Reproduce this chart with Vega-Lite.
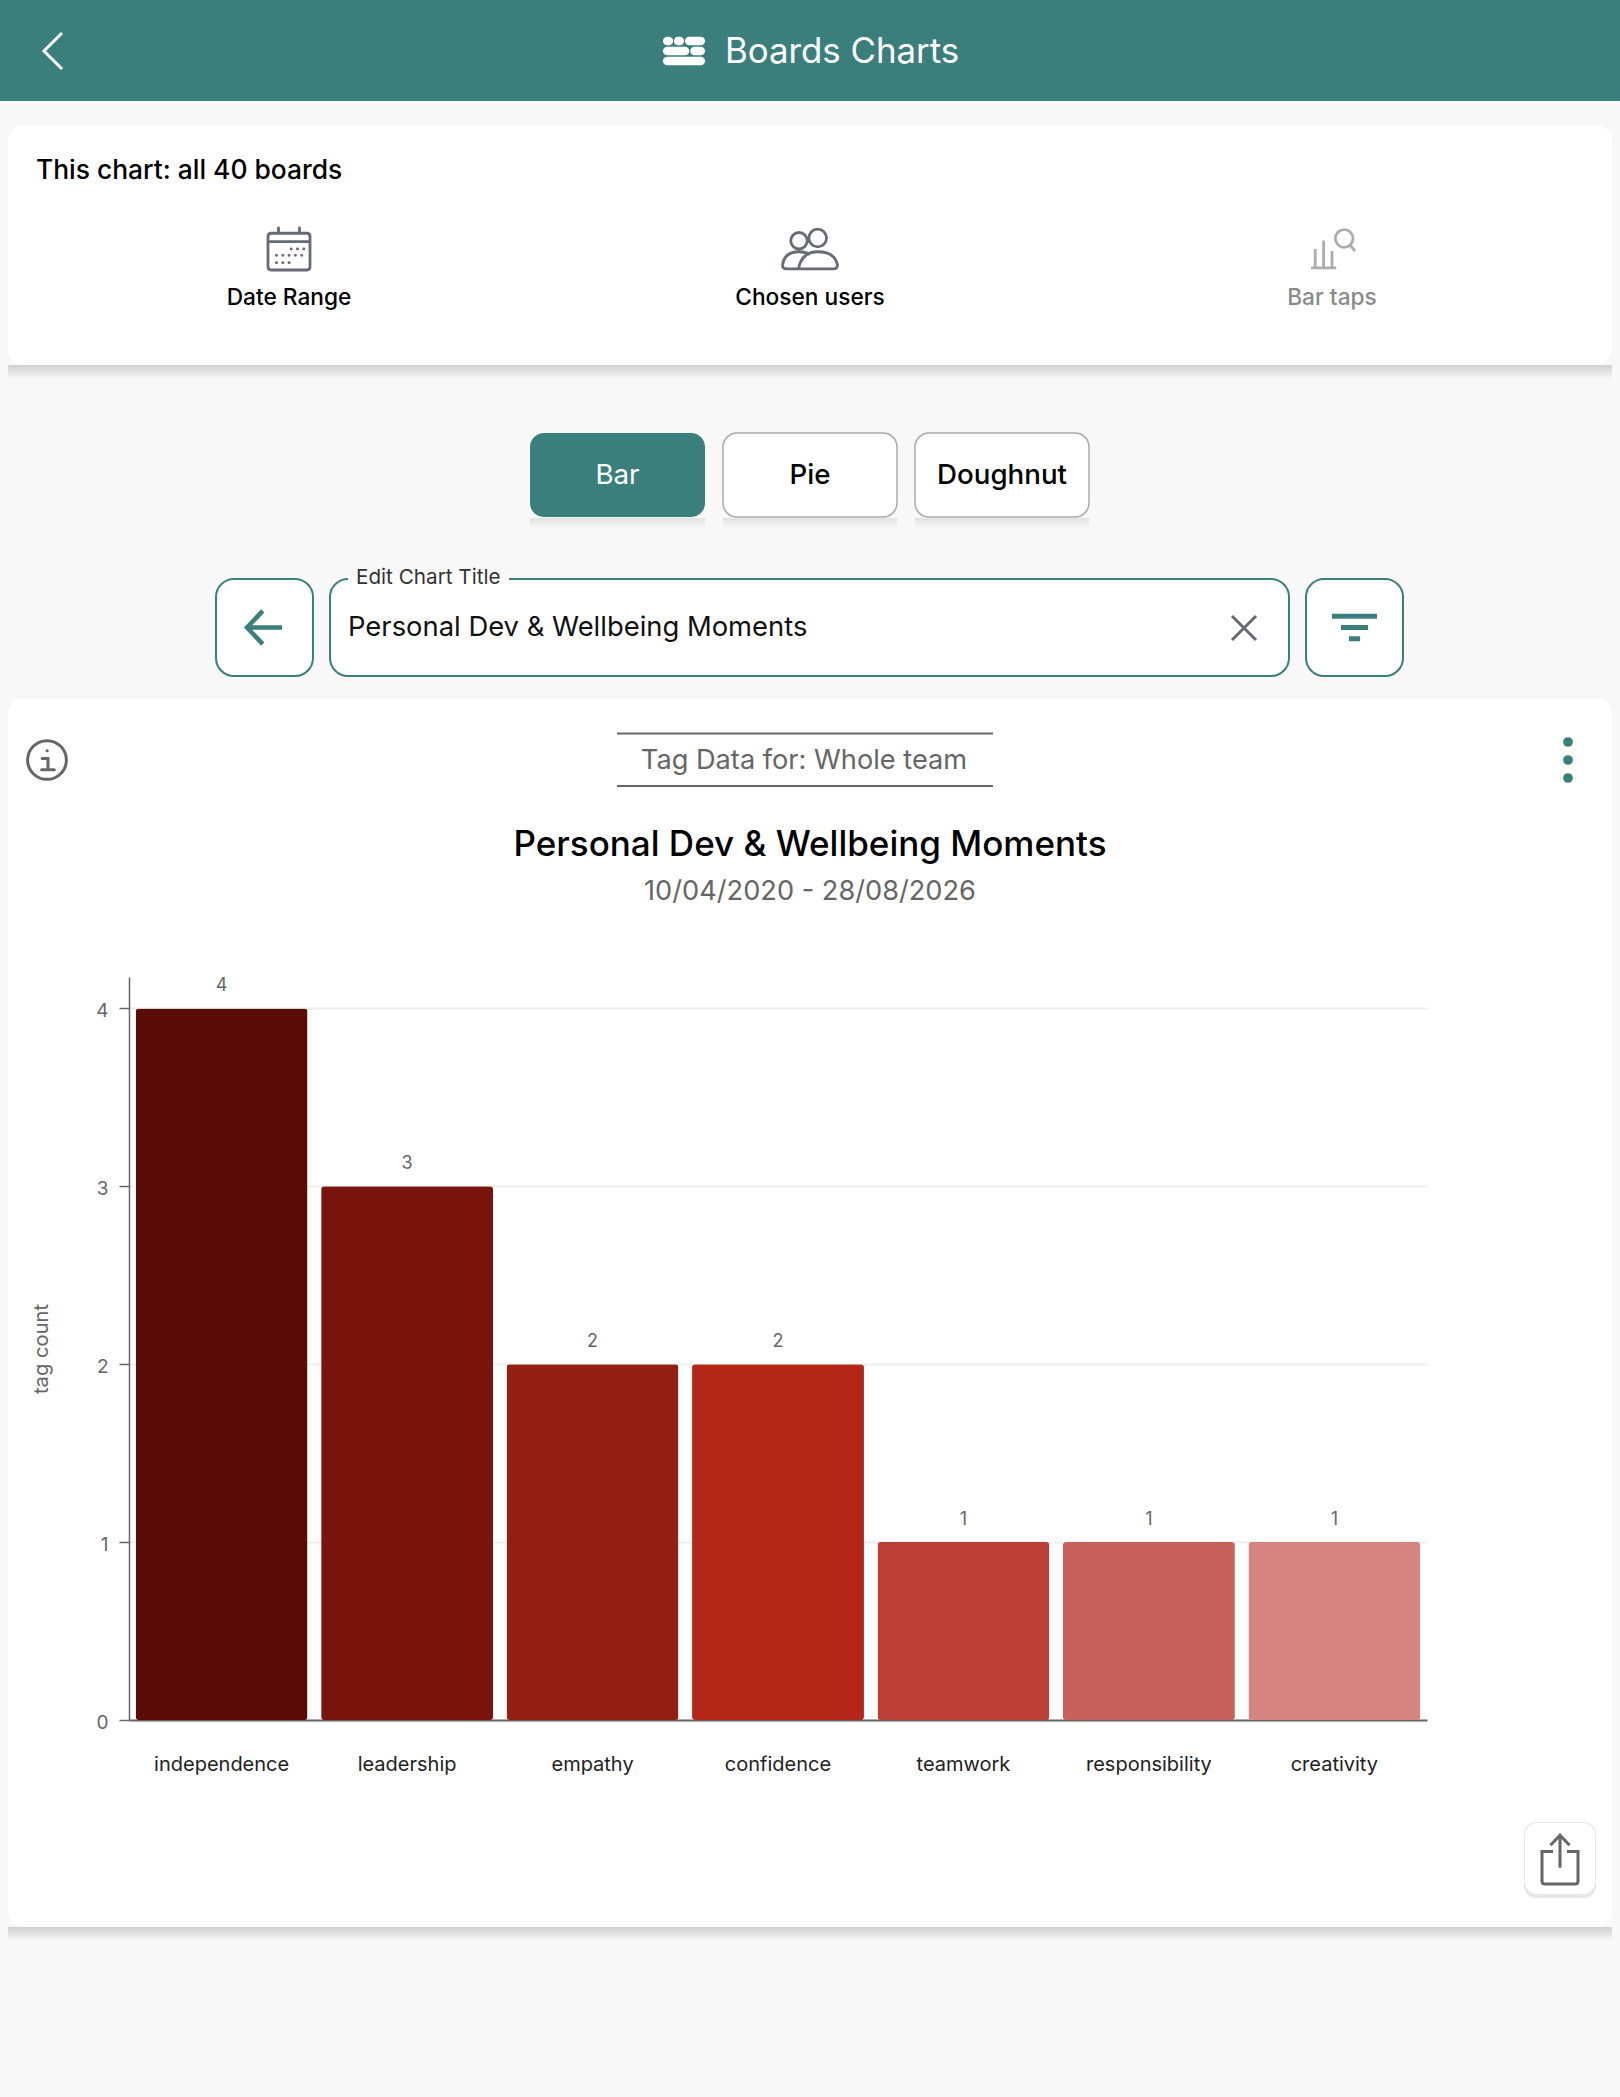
{
  "$schema": "https://vega.github.io/schema/vega-lite/v6.json",
  "background": "#f8f8f8",
  "padding": 0,
  "spacing": 0,
  "config": {"font": "Inter", "view": {"stroke": null}, "concat": {"spacing": 0}},
  "vconcat": [
    {
      "width": 1620,
      "height": 101,
      "view": {"fill": "#3b7f7d"},
      "resolve": {"scale": {"x": "independent", "y": "independent"}},
      "layer": [
        {
          "data": {"values": [{"item": "back"}]},
          "mark": {"type": "point", "shape": "M0.5 -1L-0.5 0L0.5 1", "size": 1296, "filled": false, "stroke": "#ffffff", "strokeWidth": 3, "opacity": 1},
          "encoding": {
            "x": {"field": "item", "type": "nominal", "axis": null, "scale": {"type": "point", "range": [53, 53]}},
            "y": {"field": "item", "type": "nominal", "axis": null, "scale": {"type": "point", "range": [51, 51]}}
          }
        },
        {
          "data": {"values": [{"item": "boards"}]},
          "mark": {"type": "point", "shape": "M-0.8 -0.48H-0.72M-0.28 -0.48H-0.2M0.25 -0.48H0.8M-0.8 0H0.05M0.5 0H0.8M-0.8 0.48H0.8", "size": 1764, "filled": false, "stroke": "#ffffff", "strokeWidth": 8.5, "strokeCap": "round", "opacity": 1},
          "encoding": {
            "x": {"field": "item", "type": "nominal", "axis": null, "scale": {"type": "point", "range": [684, 684]}},
            "y": {"field": "item", "type": "nominal", "axis": null, "scale": {"type": "point", "range": [51, 51]}}
          }
        },
        {
          "data": {"values": [{"item": "Boards Charts"}]},
          "mark": {"type": "text", "align": "left", "fontSize": 34.8, "color": "#ffffff"},
          "encoding": {
            "x": {"field": "item", "type": "nominal", "axis": null, "scale": {"type": "point", "range": [725, 725]}},
            "y": {"field": "item", "type": "nominal", "axis": null, "scale": {"type": "point", "range": [53, 53]}},
            "text": {"field": "item"}
          }
        }
      ]
    },
    {"width": 1620, "height": 24, "data": {"values": []}, "mark": "rect"},
    {
      "bounds": "flush",
      "hconcat": [
        {"width": 8, "height": 240, "data": {"values": []}, "mark": "rect"},
        {
          "width": 1604,
          "height": 240,
          "view": {"fill": "#ffffff", "cornerRadius": 16},
          "resolve": {"scale": {"x": "independent", "y": "independent"}},
          "layer": [
            {
              "data": {"values": [{"item": "This chart: all 40 boards"}]},
              "mark": {"type": "text", "align": "left", "fontSize": 26.4, "fontWeight": 500, "color": "#000000"},
              "encoding": {
                "x": {"field": "item", "type": "nominal", "axis": null, "scale": {"type": "point", "range": [28, 28]}},
                "y": {"field": "item", "type": "nominal", "axis": null, "scale": {"type": "point", "range": [46, 46]}},
                "text": {"field": "item"}
              }
            },
            {
              "data": {"values": [{"item": "calendar"}]},
              "mark": {"type": "point", "shape": "M-0.85 -0.75H0.85Q1 -0.75 1 -0.6V0.85Q1 1 0.85 1H-0.85Q-1 1 -1 0.85V-0.6Q-1 -0.75 -0.85 -0.75ZM-1 -0.35H1M-0.5 -1V-0.75M0.5 -1V-0.75M0.1 0H0.11M0.4 0H0.41M0.7 0H0.71M-0.6 0.3H-0.59M-0.3 0.3H-0.29M0 0.3H0.01M0.3 0.3H0.31M0.6 0.3H0.61M-0.6 0.65H-0.59M-0.3 0.65H-0.29M0 0.65H0.01", "size": 1764, "filled": false, "stroke": "#666b75", "strokeWidth": 2.8, "strokeCap": "round", "opacity": 1},
              "encoding": {
                "x": {"field": "item", "type": "nominal", "axis": null, "scale": {"type": "point", "range": [281, 281]}},
                "y": {"field": "item", "type": "nominal", "axis": null, "scale": {"type": "point", "range": [124, 124]}}
              }
            },
            {
              "data": {"values": [{"item": "users"}]},
              "mark": {"type": "point", "shape": "M-0.1 -0.3A0.3 0.3 0 1 1 -0.7 -0.3A0.3 0.3 0 1 1 -0.1 -0.3ZM0.6 -0.4A0.32 0.32 0 1 1 -0.04 -0.4A0.32 0.32 0 1 1 0.6 -0.4ZM-1 0.6Q-0.95 0.1 -0.4 0.1Q-0.15 0.1 0 0.2M-1 0.6Q-1 0.72 -0.85 0.72H0.85Q1 0.72 1 0.58Q0.9 0.1 0.28 0.1Q-0.3 0.1 -0.42 0.72", "size": 3025, "filled": false, "stroke": "#666b75", "strokeWidth": 2.8, "opacity": 1},
              "encoding": {
                "x": {"field": "item", "type": "nominal", "axis": null, "scale": {"type": "point", "range": [802, 802]}},
                "y": {"field": "item", "type": "nominal", "axis": null, "scale": {"type": "point", "range": [124, 124]}}
              }
            },
            {
              "data": {"values": [{"item": "barsearch"}]},
              "mark": {"type": "point", "shape": "M-1 0.9H0.2M-0.8 0.9V0M-0.4 0.9V-0.4M0 0.9V0.1M1 -0.5A0.42 0.42 0 1 1 0.16 -0.5A0.42 0.42 0 1 1 1 -0.5ZM0.85 -0.2L1.1 0.1", "size": 1764, "filled": false, "stroke": "#adadad", "strokeWidth": 2.8, "opacity": 1},
              "encoding": {
                "x": {"field": "item", "type": "nominal", "axis": null, "scale": {"type": "point", "range": [1324, 1324]}},
                "y": {"field": "item", "type": "nominal", "axis": null, "scale": {"type": "point", "range": [124, 124]}}
              }
            },
            {
              "data": {"values": [{"item": "Date Range"}, {"item": "Chosen users"}]},
              "mark": {"type": "text", "fontSize": 22.7, "fontWeight": 500, "color": "#000000"},
              "encoding": {
                "x": {"field": "item", "type": "nominal", "axis": null, "sort": null, "scale": {"type": "point", "range": [281, 802], "padding": 0}},
                "y": {"datum": "labels", "type": "nominal", "axis": null, "scale": {"type": "point", "range": [173, 173]}},
                "text": {"field": "item"}
              }
            },
            {
              "data": {"values": [{"item": "Bar taps"}]},
              "mark": {"type": "text", "fontSize": 22.7, "fontWeight": 500, "color": "#8a8a8a"},
              "encoding": {
                "x": {"field": "item", "type": "nominal", "axis": null, "scale": {"type": "point", "range": [1324, 1324]}},
                "y": {"field": "item", "type": "nominal", "axis": null, "scale": {"type": "point", "range": [173, 173]}},
                "text": {"field": "item"}
              }
            }
          ]
        }
      ]
    },
    {
      "bounds": "flush",
      "hconcat": [
        {"width": 8, "height": 14, "data": {"values": []}, "mark": "rect"},
        {
          "width": 1604,
          "height": 14,
          "view": {"fill": {"gradient": "linear", "x1": 0, "y1": 0, "x2": 0, "y2": 1, "stops": [{"offset": 0, "color": "#cfcfcf"}, {"offset": 1, "color": "#f8f8f8"}]}},
          "data": {"values": []},
          "mark": "rect"
        }
      ]
    },
    {"width": 1620, "height": 53, "data": {"values": []}, "mark": "rect"},
    {
      "bounds": "flush",
      "spacing": 18,
      "hconcat": [
        {"width": 512, "height": 84, "data": {"values": []}, "mark": "rect"},
        {
          "width": 175,
          "height": 84,
          "view": {"fill": "#3b7f7d", "cornerRadius": 14},
          "data": {"values": [{"item": "Bar"}]},
          "mark": {"type": "text", "fontSize": 27.7, "color": "#ffffff", "dy": 1},
          "encoding": {"text": {"field": "item"}}
        },
        {
          "width": 174,
          "height": 84,
          "view": {"fill": "#ffffff", "stroke": "#aaaaaa", "strokeWidth": 1.5, "cornerRadius": 14},
          "data": {"values": [{"item": "Pie"}]},
          "mark": {"type": "text", "fontSize": 27.7, "fontWeight": 500, "color": "#000000", "dy": 1},
          "encoding": {"text": {"field": "item"}}
        },
        {
          "width": 174,
          "height": 84,
          "view": {"fill": "#ffffff", "stroke": "#aaaaaa", "strokeWidth": 1.5, "cornerRadius": 14},
          "data": {"values": [{"item": "Doughnut"}]},
          "mark": {"type": "text", "fontSize": 27.7, "fontWeight": 500, "color": "#000000", "dy": 1},
          "encoding": {"text": {"field": "item"}}
        }
      ]
    },
    {
      "bounds": "flush",
      "spacing": 18,
      "hconcat": [
        {"width": 512, "height": 10, "data": {"values": []}, "mark": "rect"},
        {"width": 175, "height": 10, "view": {"fill": {"gradient": "linear", "x1": 0, "y1": 0, "x2": 0, "y2": 1, "stops": [{"offset": 0, "color": "#e2e2e2"}, {"offset": 1, "color": "#f8f8f8"}]}}, "data": {"values": []}, "mark": "rect"},
        {"width": 174, "height": 10, "view": {"fill": {"gradient": "linear", "x1": 0, "y1": 0, "x2": 0, "y2": 1, "stops": [{"offset": 0, "color": "#e2e2e2"}, {"offset": 1, "color": "#f8f8f8"}]}}, "data": {"values": []}, "mark": "rect"},
        {"width": 174, "height": 10, "view": {"fill": {"gradient": "linear", "x1": 0, "y1": 0, "x2": 0, "y2": 1, "stops": [{"offset": 0, "color": "#e2e2e2"}, {"offset": 1, "color": "#f8f8f8"}]}}, "data": {"values": []}, "mark": "rect"}
      ]
    },
    {"width": 1620, "height": 37.5, "data": {"values": []}, "mark": "rect"},
    {
      "bounds": "flush",
      "spacing": 17,
      "hconcat": [
        {"width": 199, "height": 97, "data": {"values": []}, "mark": "rect"},
        {
          "width": 97,
          "height": 97,
          "view": {"fill": "#ffffff", "stroke": "#3b7f7d", "strokeWidth": 2, "cornerRadius": 18},
          "data": {"values": [{"item": "back arrow"}]},
          "mark": {"type": "point", "shape": "M1 0H-1M-0.1 -0.95L-1 0L-0.1 0.95", "size": 1225, "filled": false, "stroke": "#3b7f7d", "strokeWidth": 4.5, "opacity": 1}
        },
        {
          "width": 959,
          "height": 97,
          "view": {"fill": "#ffffff", "stroke": "#3b7f7d", "strokeWidth": 2, "cornerRadius": 18},
          "resolve": {"scale": {"x": "independent", "y": "independent"}},
          "layer": [
            {
              "data": {"values": [{"item": "gap"}]},
              "mark": {"type": "rect", "color": "#ffffff"},
              "encoding": {
                "x": {"field": "item", "type": "nominal", "axis": null, "scale": {"type": "band", "range": [18, 179], "paddingInner": 0, "paddingOuter": 0}},
                "y": {"field": "item", "type": "nominal", "axis": null, "scale": {"type": "band", "range": [-4, 4], "paddingInner": 0, "paddingOuter": 0}}
              }
            },
            {
              "data": {"values": [{"item": "Edit Chart Title"}]},
              "mark": {"type": "text", "align": "left", "fontSize": 20.7, "color": "#333333"},
              "encoding": {
                "x": {"field": "item", "type": "nominal", "axis": null, "scale": {"type": "point", "range": [26, 26]}},
                "y": {"field": "item", "type": "nominal", "axis": null, "scale": {"type": "point", "range": [-1, -1]}},
                "text": {"field": "item"}
              }
            },
            {
              "data": {"values": [{"item": "Personal Dev & Wellbeing Moments"}]},
              "mark": {"type": "text", "align": "left", "fontSize": 27.4, "color": "#111111"},
              "encoding": {
                "x": {"field": "item", "type": "nominal", "axis": null, "scale": {"type": "point", "range": [18, 18]}},
                "y": {"field": "item", "type": "nominal", "axis": null, "scale": {"type": "point", "range": [49, 49]}},
                "text": {"field": "item"}
              }
            },
            {
              "data": {"values": [{"item": "clear"}]},
              "mark": {"type": "point", "shape": "M-1 -1L1 1M1 -1L-1 1", "size": 576, "filled": false, "stroke": "#666b75", "strokeWidth": 3, "opacity": 1},
              "encoding": {
                "x": {"field": "item", "type": "nominal", "axis": null, "scale": {"type": "point", "range": [914, 914]}},
                "y": {"field": "item", "type": "nominal", "axis": null, "scale": {"type": "point", "range": [49, 49]}}
              }
            }
          ]
        },
        {
          "width": 97,
          "height": 97,
          "view": {"fill": "#ffffff", "stroke": "#3b7f7d", "strokeWidth": 2, "cornerRadius": 18},
          "data": {"values": [{"item": "filter"}]},
          "mark": {"type": "point", "shape": "M-1 -0.5H1M-0.6 0H0.6M-0.25 0.5H0.25", "size": 2025, "filled": false, "stroke": "#3b7f7d", "strokeWidth": 5, "opacity": 1}
        }
      ]
    },
    {"width": 1620, "height": 20.8, "data": {"values": []}, "mark": "rect"},
    {
      "bounds": "flush",
      "hconcat": [
        {"width": 8, "height": 1229, "data": {"values": []}, "mark": "rect"},
        {
          "width": 1604,
          "height": 1229,
          "view": {"fill": "#ffffff", "cornerRadius": 16},
          "title": {
            "text": "Personal Dev & Wellbeing Moments",
            "subtitle": "10/04/2020 - 28/08/2026",
            "anchor": "middle",
            "fontSize": 35,
            "fontWeight": 500,
            "color": "#000000",
            "subtitleFontSize": 27.2,
            "subtitleColor": "#666666",
            "subtitlePadding": 16,
            "offset": -207
          },
          "resolve": {"scale": {"x": "independent", "y": "independent", "color": "independent"}},
          "layer": [
            {
              "data": {"values": [
                {"tag": "independence", "count": 4},
                {"tag": "leadership", "count": 3},
                {"tag": "empathy", "count": 2},
                {"tag": "confidence", "count": 2},
                {"tag": "teamwork", "count": 1},
                {"tag": "responsibility", "count": 1},
                {"tag": "creativity", "count": 1}
              ]},
              "mark": {"type": "bar", "cornerRadius": 3},
              "encoding": {
                "x": {
                  "field": "tag",
                  "type": "nominal",
                  "sort": null,
                  "title": null,
                  "scale": {"type": "band", "range": [121, 1419], "paddingInner": 0.073, "paddingOuter": 0.036},
                  "axis": {"offset": -207, "labelAngle": 0, "labelFontSize": 20, "labelColor": "#222222", "labelPadding": 34, "ticks": false, "domainColor": "#666666", "domainWidth": 2, "grid": false}
                },
                "y": {
                  "field": "count",
                  "type": "quantitative",
                  "title": "tag count",
                  "scale": {"domain": [0, 4.177], "range": [1022, 279], "nice": false},
                  "axis": {"offset": -121, "values": [0, 1, 2, 3, 4], "format": "d", "labelFontSize": 19, "labelColor": "#666666", "labelPadding": 11, "labelOffset": 2, "tickSize": 10, "tickColor": "#666666", "tickWidth": 1.5, "domainColor": "#666666", "domainWidth": 1.5, "grid": true, "gridColor": "#eeeeee", "gridWidth": 2, "titleFontSize": 20.2, "titleFontWeight": 400, "titleColor": "#666666", "titleX": -78}
                },
                "color": {
                  "field": "tag",
                  "type": "nominal",
                  "legend": null,
                  "sort": null,
                  "scale": {"range": ["#5a0d07", "#7a150e", "#951e13", "#b32618", "#bc3f37", "#c8605c", "#d68480"]}
                }
              }
            },
            {
              "data": {"values": [
                {"tag": "independence", "count": 4},
                {"tag": "leadership", "count": 3},
                {"tag": "empathy", "count": 2},
                {"tag": "confidence", "count": 2},
                {"tag": "teamwork", "count": 1},
                {"tag": "responsibility", "count": 1},
                {"tag": "creativity", "count": 1}
              ]},
              "mark": {"type": "text", "fontSize": 18, "color": "#666666", "dy": -22},
              "encoding": {
                "x": {"field": "tag", "type": "nominal", "sort": null, "axis": null, "scale": {"type": "band", "range": [121, 1419], "paddingInner": 0.073, "paddingOuter": 0.036}},
                "y": {"field": "count", "type": "quantitative", "axis": null, "scale": {"domain": [0, 4.177], "range": [1022, 279], "nice": false}},
                "text": {"field": "count"}
              }
            },
            {
              "data": {"values": [{"item": "info"}]},
              "mark": {"type": "point", "shape": "M1 0A1 1 0 1 1 -1 0A1 1 0 1 1 1 0ZM-0.25 -0.08H0.05V0.5M-0.28 0.5H0.38M0 -0.48H0.01", "size": 1500, "filled": false, "stroke": "#666666", "strokeWidth": 3, "strokeCap": "round", "opacity": 1},
              "encoding": {
                "x": {"field": "item", "type": "nominal", "axis": null, "scale": {"type": "point", "range": [39, 39]}},
                "y": {"field": "item", "type": "nominal", "axis": null, "scale": {"type": "point", "range": [62, 62]}}
              }
            },
            {
              "data": {"values": [{"item": "Tag Data for: Whole team"}]},
              "mark": {"type": "text", "fontSize": 27.2, "color": "#666666"},
              "encoding": {
                "x": {"field": "item", "type": "nominal", "axis": null, "scale": {"type": "point", "range": [796, 796]}},
                "y": {"field": "item", "type": "nominal", "axis": null, "scale": {"type": "point", "range": [63, 63]}},
                "text": {"field": "item"}
              }
            },
            {
              "data": {"values": [{"line": "above"}, {"line": "below"}]},
              "mark": {"type": "tick", "orient": "horizontal", "size": 376, "thickness": 2, "color": "#666666", "opacity": 1},
              "encoding": {
                "x": {"datum": "subtitle rule", "type": "nominal", "axis": null, "scale": {"type": "point", "range": [797, 797]}},
                "y": {"field": "line", "type": "nominal", "axis": null, "sort": null, "scale": {"type": "point", "range": [35.5, 88], "padding": 0}}
              }
            },
            {
              "data": {"values": [{"dot": "a"}, {"dot": "b"}, {"dot": "c"}]},
              "mark": {"type": "point", "shape": "circle", "size": 95, "filled": true, "fill": "#3b7f7d", "opacity": 1},
              "encoding": {
                "x": {"datum": "menu", "type": "nominal", "axis": null, "scale": {"type": "point", "range": [1560, 1560]}},
                "y": {"field": "dot", "type": "nominal", "axis": null, "sort": null, "scale": {"type": "point", "range": [44, 80], "padding": 0}}
              }
            },
            {
              "data": {"values": [{"item": "share shadow"}]},
              "mark": {"type": "rect", "color": "#e8e8e8", "cornerRadius": 12},
              "encoding": {
                "x": {"field": "item", "type": "nominal", "axis": null, "scale": {"type": "band", "range": [1516, 1588], "paddingInner": 0, "paddingOuter": 0}},
                "y": {"field": "item", "type": "nominal", "axis": null, "scale": {"type": "band", "range": [1124, 1200], "paddingInner": 0, "paddingOuter": 0}}
              }
            },
            {
              "data": {"values": [{"item": "share box"}]},
              "mark": {"type": "rect", "color": "#ffffff", "cornerRadius": 12},
              "encoding": {
                "x": {"field": "item", "type": "nominal", "axis": null, "scale": {"type": "band", "range": [1517, 1587], "paddingInner": 0, "paddingOuter": 0}},
                "y": {"field": "item", "type": "nominal", "axis": null, "scale": {"type": "band", "range": [1125, 1196], "paddingInner": 0, "paddingOuter": 0}}
              }
            },
            {
              "data": {"values": [{"item": "share"}]},
              "mark": {"type": "point", "shape": "M-0.28 -0.3H-0.72V0.88Q-0.72 1 -0.6 1H0.6Q0.72 1 0.72 0.88V-0.3H0.28M0 0.35V-0.95M-0.38 -0.55L0 -0.95L0.38 -0.55", "size": 2500, "filled": false, "stroke": "#666666", "strokeWidth": 3, "opacity": 1},
              "encoding": {
                "x": {"field": "item", "type": "nominal", "axis": null, "scale": {"type": "point", "range": [1552, 1552]}},
                "y": {"field": "item", "type": "nominal", "axis": null, "scale": {"type": "point", "range": [1161, 1161]}}
              }
            }
          ]
        }
      ]
    },
    {
      "bounds": "flush",
      "hconcat": [
        {"width": 8, "height": 14, "data": {"values": []}, "mark": "rect"},
        {
          "width": 1604,
          "height": 14,
          "view": {"fill": {"gradient": "linear", "x1": 0, "y1": 0, "x2": 0, "y2": 1, "stops": [{"offset": 0, "color": "#cfcfcf"}, {"offset": 1, "color": "#f8f8f8"}]}},
          "data": {"values": []},
          "mark": "rect"
        }
      ]
    },
    {"width": 1620, "height": 156, "data": {"values": []}, "mark": "rect"}
  ]
}
